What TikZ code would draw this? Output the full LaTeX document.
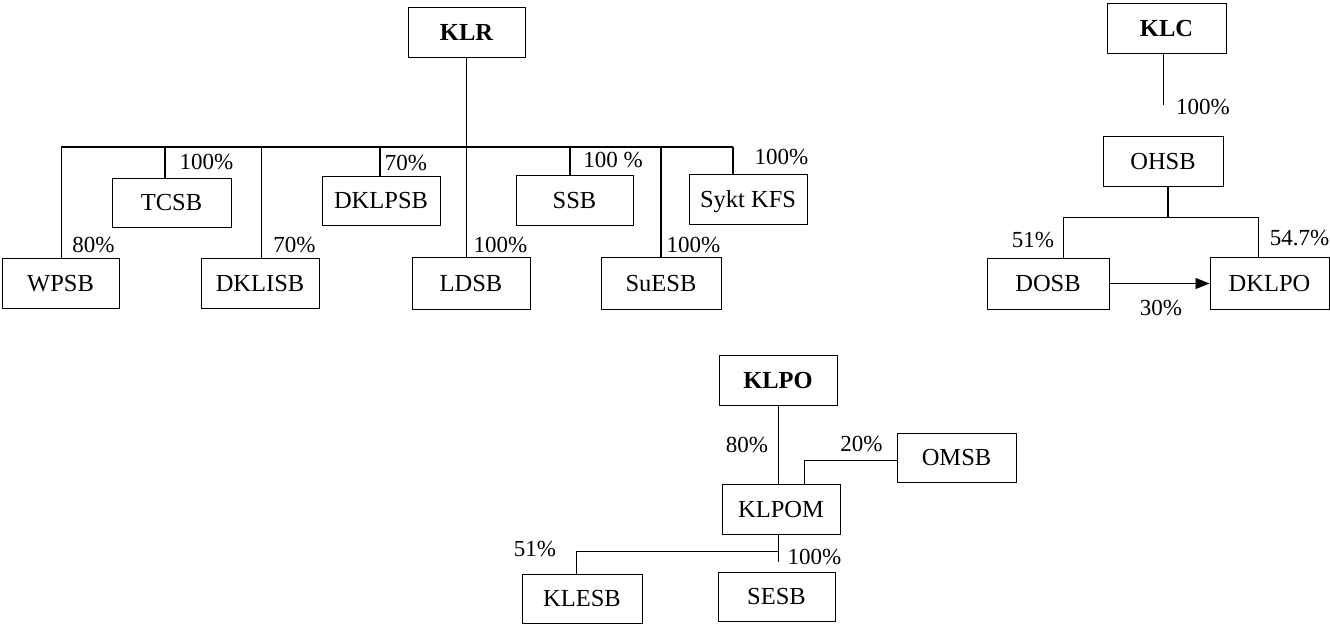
\documentclass[tikz,border=0pt]{standalone}
\usepackage{fontspec}
\setmainfont{Liberation Serif}
\usetikzlibrary{arrows.meta}
\begin{document}
\begin{tikzpicture}[x=1pt,y=-1pt,
  box/.style={draw, line width=1pt, inner sep=0pt, text height=16pt, text depth=0pt,
    font=\fontsize{24.5}{24.5}\selectfont, minimum width=118pt, minimum height=50pt},
  bbox/.style={box, font=\fontsize{24.5}{24.5}\selectfont\bfseries},
  lbl/.style={inner sep=0pt, font=\fontsize{23}{23}\selectfont},
  ln/.style={line width=0.8pt},
  busline/.style={line width=1.3pt}
]
\useasboundingbox (0,0) rectangle (1330,624);

% ---------- KLR group ----------
\node[bbox, minimum width=117pt] (KLR) at (466.5,32) {KLR};
\node[box, minimum width=119pt, minimum height=49pt] (TCSB) at (171.5,202.5) {TCSB};
\node[box, minimum height=49pt] (DKLPSB) at (381,200.5) {DKLPSB};
\node[box, minimum width=117pt] (SSB) at (574.5,200) {SSB};
\node[box] (SyktKFS) at (748,199) {Sykt KFS};
\node[box, minimum width=117pt] (WPSB) at (60.5,283) {WPSB};
\node[box] (DKLISB) at (260,283) {DKLISB};
\node[box, minimum height=52pt] (LDSB) at (471,283) {LDSB};
\node[box, minimum width=120pt, minimum height=52pt] (SuESB) at (661,283) {SuESB};

\coordinate (busL) at (61,147);
\coordinate (busR) at (733,147);
\coordinate (c1) at (165,147);
\coordinate (c2) at (261,147);
\coordinate (c3) at (380,147);
\coordinate (c4) at (570,147);
\coordinate (c5) at (661,147);
\coordinate (kl) at (466,147);

\draw[busline] (busL) -- (busR);
\draw[ln] (busL) -- (busL |- WPSB.north);
\draw[ln] (kl |- KLR.south) -- (kl |- LDSB.north);
\draw[busline] (c1) -- (c1 |- TCSB.north);
\draw[ln] (c2) -- (c2 |- DKLISB.north);
\draw[busline] (c3) -- (c3 |- DKLPSB.north);
\draw[busline] (c4) -- (c4 |- SSB.north);
\draw[busline] (c5) -- (c5 |- SuESB.north);
\draw[busline] (busR) -- (busR |- SyktKFS.north);

\node[lbl] (l1) at (206.5,162) {100\%};
\node[lbl] (l2) at (93.5,245) {80\%};
\node[lbl] (l3) at (294.5,245) {70\%};
\node[lbl] (l4) at (406,163) {70\%};
\node[lbl] (l5) at (500.5,245) {100\%};
\node[lbl] (l6) at (613,160) {100 \%};
\node[lbl] (l7) at (693.5,245) {100\%};
\node[lbl] (l8) at (781.5,157) {100\%};

% ---------- KLC group ----------
\node[bbox, minimum width=119pt] (KLC) at (1166.5,28) {KLC};
\node[box, minimum width=120pt] (OHSB) at (1163,161) {OHSB};
\node[box, minimum width=122pt, minimum height=51pt] (DOSB) at (1048,283.5) {DOSB};
\node[box, minimum width=119pt, minimum height=52pt] (DKLPO) at (1269.5,283) {DKLPO};

\coordinate (klcEnd) at (1163,105);
\draw[ln] (klcEnd |- KLC.south) -- (klcEnd);
\coordinate (ohJ) at (1168,217);
\coordinate (doJ) at (1063,217);
\coordinate (dkJ) at (1258,217);
\draw[busline] (ohJ |- OHSB.south) -- (ohJ);
\draw[ln] (doJ |- DOSB.north) -- (doJ) -- (dkJ) -- (dkJ |- DKLPO.north);
\draw[ln, -{Triangle[length=14pt,width=11pt]}] (DOSB.east) -- (DOSB.east -| DKLPO.west);

\node[lbl] (l9) at (1203,107) {100\%};
\node[lbl] (l10) at (1033,240) {51\%};
\node[lbl] (l11) at (1299.5,238) {54.7\%};
\node[lbl] (l12) at (1161,308) {30\%};

% ---------- KLPO group ----------
\node[bbox] (KLPO) at (778,380) {KLPO};
\node[box] (KLPOM) at (781,509) {KLPOM};
\node[box, minimum width=119pt, minimum height=49pt] (OMSB) at (956.5,457.5) {OMSB};
\node[box, minimum width=120pt, minimum height=49pt] (KLESB) at (582,598.5) {KLESB};
\node[box, minimum width=117pt, minimum height=49pt] (SESB) at (776.5,596.5) {SESB};

\draw[ln] (KLPO.south) -- (KLPO.south |- KLPOM.north);
\coordinate (omJ) at (804,460);
\draw[ln] (OMSB.west |- omJ) -- (omJ) -- (omJ |- KLPOM.north);
\coordinate (kmEnd) at (778,562);
\coordinate (kmJ) at (778,551);
\coordinate (keJ) at (576,551);
\draw[ln] (kmJ |- KLPOM.south) -- (kmEnd);
\draw[ln] (kmJ) -- (keJ) -- (keJ |- KLESB.north);

\node[lbl] (l13) at (747,445) {80\%};
\node[lbl] (l14) at (861.5,444) {20\%};
\node[lbl] (l15) at (535,549) {51\%};
\node[lbl] (l16) at (814.5,557) {100\%};
\end{tikzpicture}
\end{document}
